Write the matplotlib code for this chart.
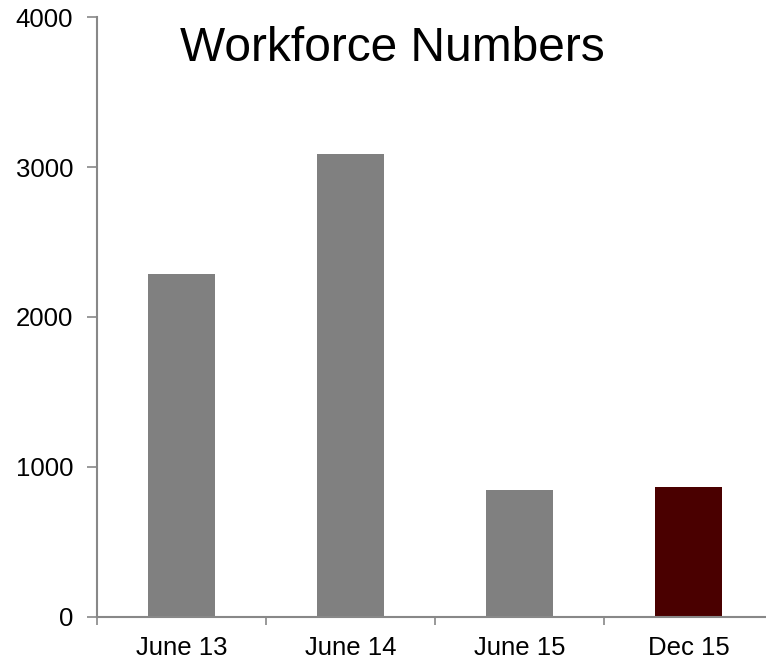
import matplotlib.pyplot as plt
from matplotlib.ticker import FixedLocator

plt.rcParams['font.family'] = ['Liberation Sans', 'DejaVu Sans']

periods = ['June 13', 'June 14', 'June 15', 'Dec 15']
workforce = [2285, 3090, 848, 866]
bar_colors = ['#808080', '#808080', '#808080', '#4a0000']
y_ticks = [0, 1000, 2000, 3000, 4000]

fig = plt.figure(figsize=(7.66, 6.62), dpi=100)
ax = fig.add_axes([0.1266, 0.068, 0.8825, 0.9063])

x = list(range(len(periods)))
ax.bar(x, workforce, width=0.4, color=bar_colors, zorder=2)

ax.set_xlim(-0.5, len(periods) - 0.5)
ax.set_ylim(0, 4000)

# category boundaries carry the tick marks, labels sit in between
ax.xaxis.set_major_locator(FixedLocator([i - 0.5 for i in range(len(periods) + 1)]))
ax.xaxis.set_minor_locator(FixedLocator(x))
ax.set_xticklabels([])
ax.set_xticklabels(periods, minor=True)
ax.tick_params(axis='x', which='major', length=6, width=1.2, color='#888888', direction='out')
ax.tick_params(axis='x', which='minor', length=0, pad=14, labelsize=18.5)

ax.set_yticks(y_ticks)
ax.tick_params(axis='y', length=7, width=1.2, color='#888888', pad=10, labelsize=18.5)

for side in ['top', 'right']:
    ax.spines[side].set_visible(False)
for side in ['left', 'bottom']:
    ax.spines[side].set_color('#888888')
    ax.spines[side].set_linewidth(1.5)

fig.text(0.512, 0.927, 'Workforce Numbers', fontsize=34.5, ha='center', va='center')

fig.savefig('out.png', dpi=100)
